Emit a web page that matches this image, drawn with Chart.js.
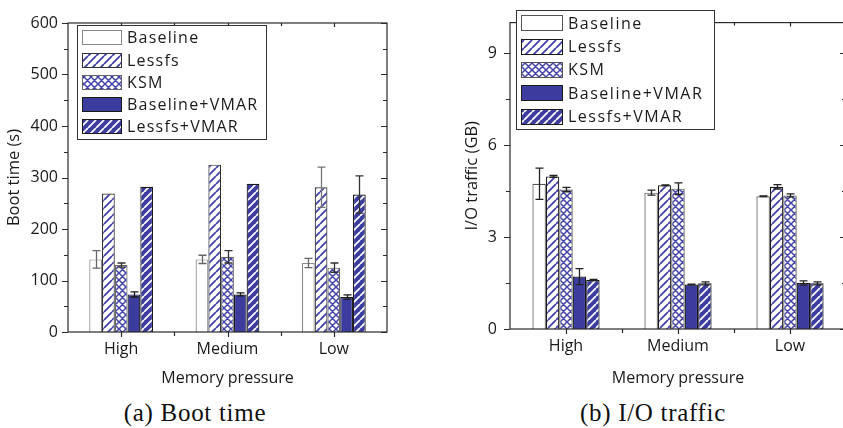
<!DOCTYPE html>
<html>
<head>
<meta charset="utf-8">
<script src="https://cdn.jsdelivr.net/npm/chart.js@4.4.1/dist/chart.umd.min.js"></script>
<style>
  html, body { margin: 0; padding: 0; background: #fff; width: 843px; height: 428px; overflow: hidden; }
  #bootCanvas { position: absolute; left: 0; top: 0; }
  #ioCanvas { position: absolute; left: 420px; top: 0; }
  .cap { position: absolute; top: 399px; line-height: 28px; font-family: "Liberation Serif", serif;
         font-size: 25px; letter-spacing: 0.7px; color: #111; white-space: nowrap; transform: translateX(-50%); }
</style>
</head>
<body>
<canvas id="bootCanvas" width="420" height="395"></canvas>
<canvas id="ioCanvas" width="428" height="395"></canvas>
<div class="cap" style="left:195px">(a) Boot time</div>
<div class="cap" style="left:653px">(b) I/O traffic</div>
<script>
const categories = ['High', 'Medium', 'Low'];
const seriesNames = ['Baseline', 'Lessfs', 'KSM', 'Baseline+VMAR', 'Lessfs+VMAR'];

// boot time (s)
const bootBaseline = [141, 141, 134];
const bootLessfs = [269, 325, 281];
const bootKsm = [130, 146, 125];
const bootBaseVmar = [73, 73, 68];
const bootLessVmar = [282, 288, 267];
const bootBaselineErr = [17, 8, 9];
const bootLessfsErr = [0, 0, 39];
const bootKsmErr = [4, 12, 9];
const bootBaseVmarErr = [5, 3, 4];
const bootLessVmarErr = [0, 0, 36];

// I/O traffic (GB)
const ioBaseline = [4.74, 4.45, 4.33];
const ioLessfs = [4.98, 4.69, 4.64];
const ioKsm = [4.55, 4.58, 4.36];
const ioBaseVmar = [1.71, 1.45, 1.50];
const ioLessVmar = [1.60, 1.49, 1.49];
const ioBaselineErr = [0.51, 0.08, 0.01];
const ioLessfsErr = [0.03, 0.01, 0.07];
const ioKsmErr = [0.07, 0.19, 0.05];
const ioBaseVmarErr = [0.26, 0.01, 0.07];
const ioLessVmarErr = [0.02, 0.05, 0.05];

// axis ranges / tick steps
const bootMax = 600, bootMajor = 100, bootMinor = 50;
const ioMax = 10, ioMajor = 3, ioMinor = 1.5;

const BLUE = '#3c3c9e';
const STRIPE = '#4444aa';
const FONT = '"Open Sans", sans-serif';

function makePattern(bg, fg, size, cross, lw) {
  const c = document.createElement('canvas');
  c.width = c.height = size;
  const g = c.getContext('2d');
  g.fillStyle = bg;
  g.fillRect(0, 0, size, size);
  g.strokeStyle = fg;
  g.lineWidth = lw;
  g.beginPath();
  for (let k = -1; k <= 1; k++) {
    g.moveTo(k * size, size); g.lineTo(k * size + size, 0);
  }
  if (cross) {
    for (let k = -1; k <= 1; k++) {
      g.moveTo(k * size, 0); g.lineTo(k * size + size, size);
    }
  }
  g.stroke();
  return g.createPattern(c, 'repeat');
}

const fills = [
  '#ffffff',
  makePattern('#ffffff', STRIPE, 8, false, 1.9),
  makePattern('#ffffff', STRIPE, 7, true, 1.5),
  BLUE,
  makePattern(BLUE, '#ffffff', 8, false, 1.8)
];

function isMultiple(v, step) {
  return Math.abs(v / step - Math.round(v / step)) < 1e-6;
}

// frame + tick marks (outward on left/bottom, inward on right/top)
const framePlugin = {
  id: 'frame',
  afterDatasetsDraw(chart, args, o) {
    const { ctx, chartArea: a, scales: { x, y } } = chart;
    ctx.save();
    ctx.strokeStyle = '#2a2a2a';
    ctx.lineWidth = 1.2;
    ctx.beginPath();
    y.ticks.forEach(t => {
      const py = Math.round(y.getPixelForValue(t.value)) + 0.5;
      const len = isMultiple(t.value, o.major) ? 6 : 4;
      ctx.moveTo(a.left - len, py); ctx.lineTo(a.left, py);
      ctx.moveTo(a.right - len, py); ctx.lineTo(a.right, py);
    });
    for (let i = 0; i < categories.length; i++) {
      const px = Math.round(x.getPixelForValue(i)) + 0.5;
      ctx.moveTo(px, a.bottom); ctx.lineTo(px, a.bottom + 5);
      ctx.moveTo(px, a.top); ctx.lineTo(px, a.top + 4);
    }
    for (let i = 0; i < categories.length - 1; i++) {
      const px = Math.round(x.getPixelForValue(i + 0.5)) + 0.5;
      ctx.moveTo(px, a.bottom); ctx.lineTo(px, a.bottom + 4);
      ctx.moveTo(px, a.top); ctx.lineTo(px, a.top + 3);
    }
    ctx.stroke();
    ctx.strokeRect(a.left, a.top, a.right - a.left, a.bottom - a.top);
    ctx.restore();
  }
};

const errorPlugin = {
  id: 'errbars',
  afterDatasetsDraw(chart) {
    const { ctx, scales: { y } } = chart;
    ctx.save();
    ctx.lineWidth = 1.3;
    chart.data.datasets.forEach((ds, i) => {
      const meta = chart.getDatasetMeta(i);
      meta.data.forEach((bar, j) => {
        const e = ds.errors[j];
        if (!e) return;
        const top = y.getPixelForValue(ds.data[j] + e);
        const bot = y.getPixelForValue(ds.data[j] - e);
        const cx = Math.round(bar.x) + 0.5;
        ctx.strokeStyle = ds.errColor;
        ctx.beginPath();
        ctx.moveTo(cx, top); ctx.lineTo(cx, bot);
        ctx.moveTo(cx - 4, top); ctx.lineTo(cx + 4, top);
        ctx.moveTo(cx - 4, bot); ctx.lineTo(cx + 4, bot);
        ctx.stroke();
      });
    });
    ctx.restore();
  }
};

const boxLegend = {
  id: 'boxLegend',
  afterDraw(chart, args, o) {
    const ctx = chart.ctx;
    ctx.save();
    ctx.fillStyle = '#fff';
    ctx.fillRect(o.x, o.y, o.w, o.h);
    ctx.strokeStyle = '#333';
    ctx.lineWidth = 1;
    ctx.strokeRect(o.x + 0.5, o.y + 0.5, o.w, o.h);
    chart.data.datasets.forEach((ds, i) => {
      const cy = o.y + o.rowTop + i * o.rowStep;
      const sx = o.x + o.swX, sy = Math.round(cy - o.swH / 2);
      ctx.fillStyle = ds.backgroundColor;
      ctx.fillRect(sx, sy, o.swW, o.swH);
      ctx.strokeStyle = ds.borderColor;
      ctx.strokeRect(sx + 0.5, sy + 0.5, o.swW - 1, o.swH - 1);
      ctx.fillStyle = '#1a1a1a';
      ctx.font = '16px ' + FONT;
      ctx.letterSpacing = o.spacing;
      ctx.textBaseline = 'middle';
      ctx.fillText(ds.label, o.x + o.textX, cy + 1);
    });
    ctx.restore();
  }
};

function buildDatasets(values, errors, borders, errColors) {
  return seriesNames.map((name, i) => ({
    label: name,
    data: values[i],
    errors: errors[i],
    errColor: errColors[i],
    backgroundColor: fills[i],
    borderColor: borders[i],
    borderWidth: 1.2,
    categoryPercentage: 0.6,
    barPercentage: 1.0
  }));
}

function makeChart(id, cfg) {
  return new Chart(document.getElementById(id), {
    type: 'bar',
    data: {
      labels: categories,
      datasets: buildDatasets(cfg.values, cfg.errors, cfg.borders, cfg.errColors)
    },
    options: {
      responsive: false,
      animation: false,
      layout: { padding: cfg.padding },
      plugins: {
        legend: { display: false },
        tooltip: { enabled: false },
        frame: { major: cfg.major },
        boxLegend: cfg.legend
      },
      scales: {
        x: {
          grid: { display: false, drawTicks: false },
          border: { display: false },
          ticks: { color: '#1a1a1a', font: { family: FONT, size: 16 }, padding: 8, maxRotation: 0 },
          title: { display: true, text: 'Memory pressure', color: '#1a1a1a',
                   font: { family: FONT, size: 16 }, padding: { top: 0, bottom: cfg.xTitlePad } },
          afterFit: s => { s.height = cfg.xHeight; }
        },
        y: {
          min: 0,
          max: cfg.max,
          grid: { display: false, drawTicks: false },
          border: { display: false },
          ticks: {
            stepSize: cfg.minor,
            includeBounds: false,
            color: '#1a1a1a',
            font: { family: FONT, size: 16 },
            padding: cfg.yTickPad,
            callback: v => isMultiple(v, cfg.major) ? v : ''
          },
          title: { display: true, text: cfg.yTitle, color: '#1a1a1a',
                   font: { family: FONT, size: 16.5 }, padding: { top: cfg.yTitlePad, bottom: 0 } },
          afterFit: s => { s.width = cfg.yWidth; }
        }
      }
    },
    plugins: [framePlugin, errorPlugin, boxLegend]
  });
}

makeChart('bootCanvas', {
  values: [bootBaseline, bootLessfs, bootKsm, bootBaseVmar, bootLessVmar],
  errors: [bootBaselineErr, bootLessfsErr, bootKsmErr, bootBaseVmarErr, bootLessVmarErr],
  borders: ['#888888', '#333333', '#666666', '#1a1a1a', '#1a1a1a'],
  errColors: ['#666666', '#777777', '#333333', '#1a1a1a', '#333333'],
  max: bootMax, major: bootMajor, minor: bootMinor,
  yTitle: 'Boot time (s)',
  padding: { top: 23, right: 33, left: 0, bottom: 0 },
  yWidth: 68, xHeight: 63, yTickPad: 10, yTitlePad: 4, xTitlePad: 7,
  legend: { x: 77, y: 25, w: 189, h: 114, rowTop: 12.7, rowStep: 22.3, swX: 5, swW: 40, swH: 15, textX: 50, spacing: '1.2px' }
});

makeChart('ioCanvas', {
  values: [ioBaseline, ioLessfs, ioKsm, ioBaseVmar, ioLessVmar],
  errors: [ioBaselineErr, ioLessfsErr, ioKsmErr, ioBaseVmarErr, ioLessVmarErr],
  borders: ['#555555', '#1a1a1a', '#555555', '#1a1a1a', '#1a1a1a'],
  errColors: ['#222222', '#222222', '#222222', '#222222', '#222222'],
  max: ioMax, major: ioMajor, minor: ioMinor,
  yTitle: 'I/O traffic (GB)',
  padding: { top: 5, right: 2, left: 0, bottom: 0 },
  yWidth: 90, xHeight: 66, yTickPad: 13, yTitlePad: 42, xTitlePad: 7,
  legend: { x: 96, y: 10, w: 198, h: 119, rowTop: 13.3, rowStep: 23.3, swX: 5, swW: 42, swH: 16, textX: 52, spacing: '1.5px' }
});
</script>
</body>
</html>
